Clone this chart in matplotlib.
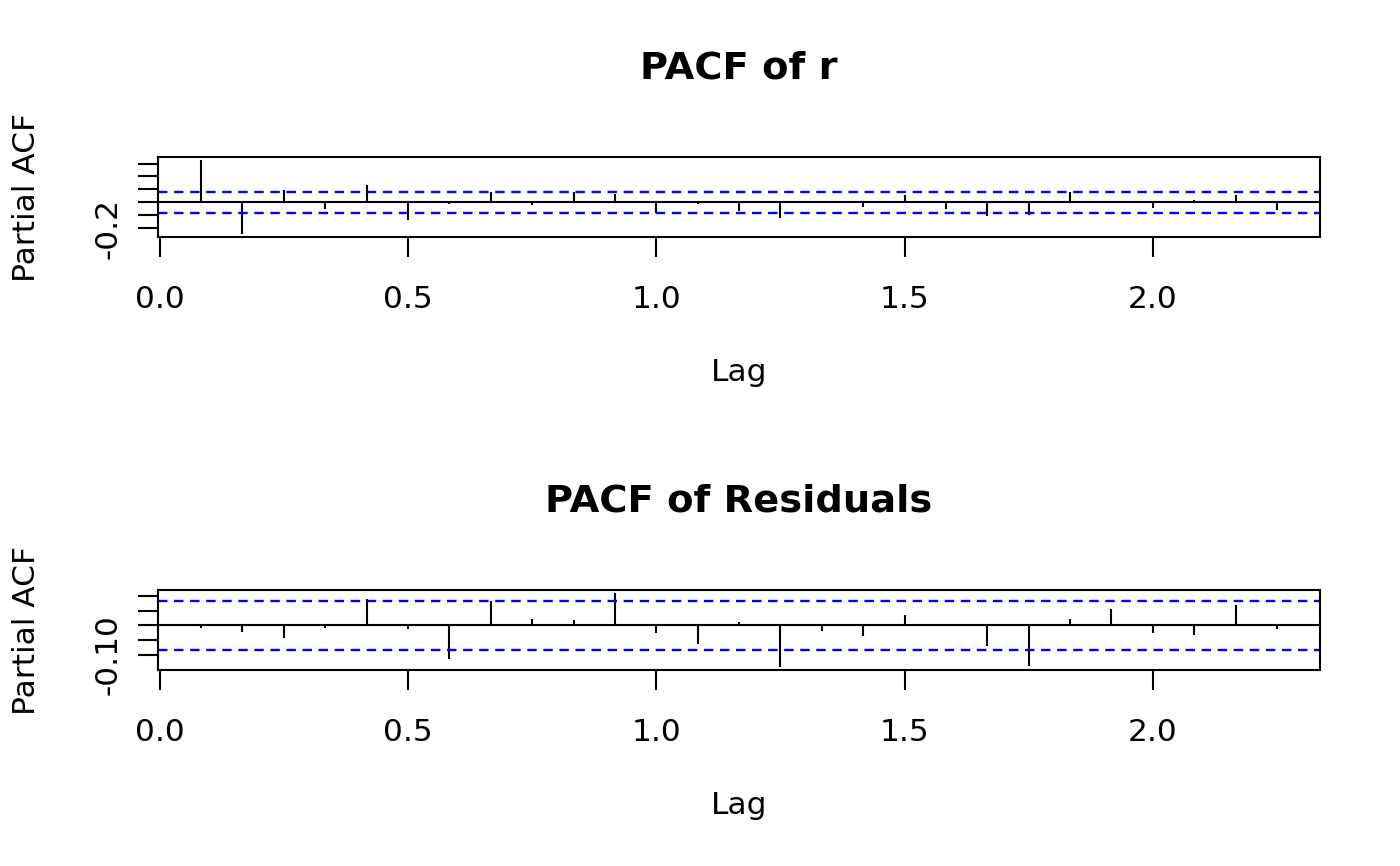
import matplotlib
matplotlib.use("Agg")
import matplotlib.pyplot as plt

# lags in months, series is monthly so lag = months / 12
lag_months = [1, 2, 3, 4, 5, 6, 7, 8, 9, 10, 11, 12, 13, 14,
              15, 16, 17, 18, 19, 20, 21, 22, 23, 24, 25, 26, 27]
frequency = 12

pacf_r = [0.328, -0.246, 0.097, -0.049, 0.131, -0.136, -0.013, 0.077, -0.023,
          0.079, 0.067, -0.079, -0.013, -0.069, -0.118, 0.010, -0.038, 0.056,
          -0.051, -0.108, -0.100, 0.079, 0.008, -0.044, 0.018, 0.059, -0.059]
clim_r = 0.081

pacf_res = [-0.007, -0.023, -0.042, -0.010, 0.090, -0.011, -0.112, 0.082, 0.022,
            0.018, 0.110, -0.027, -0.064, 0.010, -0.141, -0.020, -0.036, 0.037,
            -0.003, -0.068, -0.138, 0.022, 0.057, -0.026, -0.031, 0.068, -0.011]
clim_res = 0.084

titles = ["PACF of r", "PACF of Residuals"]
yticks_list = [[-0.2, -0.1, 0.0, 0.1, 0.2, 0.3],
               [-0.10, -0.05, 0.0, 0.05, 0.10]]
ytick_labels = [["-0.2", "", "", "", "", ""],
                ["-0.10", "", "", "", ""]]
xticks = [0.0, 0.5, 1.0, 1.5, 2.0]
xtick_labels = ["0.0", "0.5", "1.0", "1.5", "2.0"]

plt.rcParams['font.family'] = ['DejaVu Sans']
fs = 22.5

fig = plt.figure(figsize=(14, 8.66), dpi=100)
lags = [m / frequency for m in lag_months]

def r_range(lo, hi):
    d = (hi - lo) * 0.04
    return lo - d, hi + d

boxes = [[0.1129, 0.7263, 0.8300, 0.0924],
         [0.1129, 0.2263, 0.8300, 0.0924]]

for pos, vals, clim, title, yt, ytl in zip(boxes, [pacf_r, pacf_res], [clim_r, clim_res],
                                           titles, yticks_list, ytick_labels):
    ax = fig.add_axes(pos)
    ax.vlines(lags, 0, vals, color="black", lw=1.5)
    ax.axhline(0, color="black", lw=1.5)
    for c in (clim, -clim):
        ax.axhline(c, color="#0000ff", lw=1.7, linestyle=(0, (4.0, 2.8)))
    ax.set_xlim(*r_range(min(lags), max(lags)))
    ax.set_ylim(*r_range(min(min(vals), -clim), max(max(vals), clim)))
    ax.set_xticks(xticks)
    ax.set_xticklabels(xtick_labels)
    ax.set_yticks(yt)
    ax.set_yticklabels(ytl)
    ax.tick_params(axis="both", labelsize=fs, length=14.4, width=1.5, color="black")
    ax.tick_params(axis="x", pad=20)
    ax.tick_params(axis="y", pad=11, labelrotation=90)
    for lab in ax.get_yticklabels():
        lab.set_va("center")
    for sp in ax.spines.values():
        sp.set_linewidth(1.5)
    ax.set_title(title, fontsize=27.6, fontweight="bold", y=2.1, pad=0, va="center")
    ax.set_xlabel("Lag", fontsize=fs, va="center")
    ax.xaxis.set_label_coords(0.5, -1.6875)
    ax.set_ylabel("Partial ACF", fontsize=fs, va="center")
    ax.yaxis.set_label_coords(-0.113, 0.5)

fig.savefig("out.png", dpi=100)
